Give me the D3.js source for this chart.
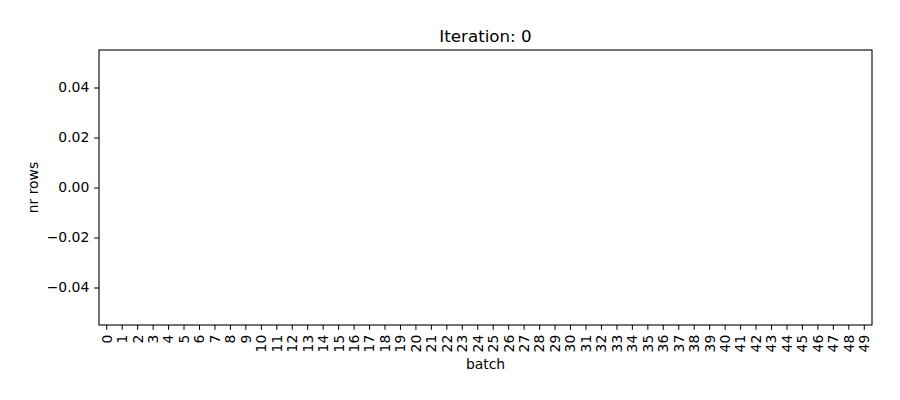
<!DOCTYPE html>
<meta charset="utf-8">
<title>Iteration: 0</title>
<style>
  body { margin: 0; background: #fff; }
  text { font-family: "DejaVu Sans", sans-serif; fill: #000; }
</style>
<body>
<svg width="900" height="400"></svg>
<script src="https://d3js.org/d3.v7.min.js"></script>
<script>

// batches 0..49, every count is zero at iteration 0
var batches = [0,1,2,3,4,5,6,7,8,9,10,11,12,13,14,15,16,17,18,19,20,21,22,23,24,
  25,26,27,28,29,30,31,32,33,34,35,36,37,38,39,40,41,42,43,44,45,46,47,48,49];
var nrRows = [0,0,0,0,0,0,0,0,0,0,0,0,0,0,0,0,0,0,0,0,0,0,0,0,0,
  0,0,0,0,0,0,0,0,0,0,0,0,0,0,0,0,0,0,0,0,0,0,0,0,0];
var yTicks = [-0.04, -0.02, 0.00, 0.02, 0.04];
var title = "Iteration: 0";

var svg = d3.select("svg"),
  margin = {left: 99, right: 28, top: 50, bottom: 75},
  width = +svg.attr("width") - margin.left - margin.right,
  height = +svg.attr("height") - margin.top - margin.bottom;

var g = svg.append("g")
  .attr("transform", "translate(" + margin.left + "," + margin.top + ")");

var x = d3.scaleBand()
  .domain(batches)
  .range([0, width])
  .padding(0.2)
  .paddingOuter(0.1);

var y = d3.scaleLinear()
  .domain([-0.055, 0.055])
  .range([height, 0]);

// bars (all zero height)
g.append("g")
  .selectAll("rect")
  .data(nrRows)
  .enter().append("rect")
  .attr("x", function(d, i) { return x(batches[i]); })
  .attr("width", x.bandwidth())
  .attr("y", function(d) { return Math.min(y(d), y(0)); })
  .attr("height", function(d) { return Math.abs(y(d) - y(0)); })
  .attr("fill", "#1f77b4");

var xAxis = g.append("g")
  .attr("transform", "translate(0," + height + ")")
  .call(d3.axisBottom(x).tickSize(4.86).tickPadding(4.86));
xAxis.select(".domain").remove();
xAxis.selectAll("text")
  .style("font-size", "13.9px")
  .attr("transform", "rotate(-90)")
  .attr("text-anchor", "end")
  .attr("x", -9.7)
  .attr("y", 0)
  .attr("dy", "0.35em");

var yAxis = g.append("g")
  .call(d3.axisLeft(y).tickValues(yTicks).tickFormat(d3.format(".2f")).tickSize(4.86).tickPadding(4.86));
yAxis.select(".domain").remove();
yAxis.selectAll("text").style("font-size", "13.9px");
yAxis.selectAll("text").text(function(d) { return d3.format(".2f")(d).replace("-", "\u2212"); });

// frame
g.append("rect")
  .attr("width", width)
  .attr("height", height)
  .attr("fill", "none")
  .attr("stroke", "#000")
  .attr("stroke-width", 1.1);

svg.append("text")
  .attr("x", margin.left + width / 2)
  .attr("y", 42)
  .attr("text-anchor", "middle")
  .style("font-size", "16.7px")
  .text(title);

svg.append("text")
  .attr("x", margin.left + width / 2)
  .attr("y", 369)
  .attr("text-anchor", "middle")
  .style("font-size", "13.9px")
  .text("batch");

svg.append("text")
  .attr("transform", "translate(38," + (margin.top + height / 2) + ") rotate(-90)")
  .attr("text-anchor", "middle")
  .style("font-size", "13.9px")
  .text("nr rows");

</script>
</body>
